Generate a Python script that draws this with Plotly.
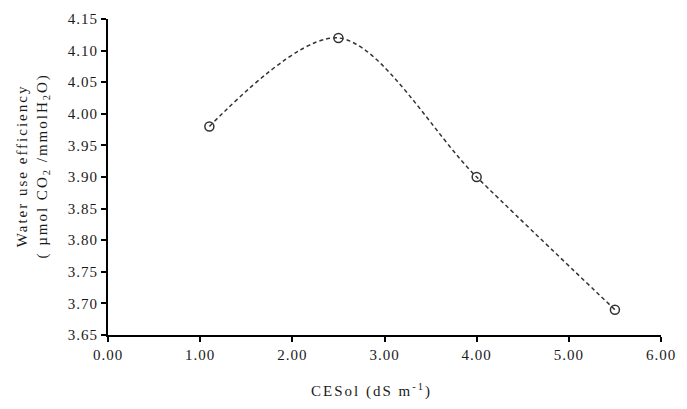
import plotly.graph_objects as go

ce_sol = [1.1, 2.5, 4.0, 5.5]
wue = [3.98, 4.12, 3.90, 3.69]
x_ticks = [0, 1, 2, 3, 4, 5, 6]
x_tick_labels = ["0.00", "1.00", "2.00", "3.00", "4.00", "5.00", "6.00"]
y_ticks = [3.65, 3.70, 3.75, 3.80, 3.85, 3.90, 3.95, 4.00, 4.05, 4.10, 4.15]
y_tick_labels = ["%.2f" % v for v in y_ticks]

font = "Liberation Serif, Times New Roman, serif"
sp = '<span style="letter-spacing:1px">%s</span>'
sp2 = '<span style="letter-spacing:2px">%s</span>'

fig = go.Figure()
fig.add_trace(go.Scatter(
    x=ce_sol, y=wue, mode="lines+markers",
    line=dict(shape="spline", smoothing=0.9, dash="4px,3px", color="#333333", width=1.5),
    marker=dict(symbol="circle-open", size=9, color="#333333", line=dict(width=1.5)),
    showlegend=False,
))

fig.update_layout(
    width=687, height=409,
    margin=dict(l=108, r=25, t=11, b=74),
    paper_bgcolor="white", plot_bgcolor="white",
    font=dict(family=font, size=15, color="#1a1a1a"),
    xaxis=dict(
        range=[0, 6], tickvals=x_ticks, ticktext=[sp % t for t in x_tick_labels],
        showline=True, linecolor="black", linewidth=2,
        ticks="outside", ticklen=5, tickwidth=2, tickcolor="black",
        showgrid=False, zeroline=False,
    ),
    yaxis=dict(
        range=[3.65, 4.15], tickvals=y_ticks, ticktext=[sp % t for t in y_tick_labels],
        showline=True, linecolor="black", linewidth=2,
        ticks="outside", ticklen=5, tickwidth=2, tickcolor="black",
        showgrid=False, zeroline=False,
    ),
    annotations=[
        dict(text=sp2 % "Water use efficiency" + "<br>" + sp2 % "( µmol CO<sub>2</sub> /mmolH<sub>2</sub>O)",
             xref="paper", yref="paper", x=-0.135, y=0.534, xanchor="center", yanchor="middle",
             textangle=-90, showarrow=False, font=dict(family=font, size=15, color="#1a1a1a")),
        dict(text=sp2 % "CESol (dS m<sup>-1</sup>)",
             xref="paper", yref="paper", x=0.477, y=-0.175, xanchor="center", yanchor="middle",
             showarrow=False, font=dict(family=font, size=15, color="#1a1a1a")),
    ],
)

fig.write_html("out.html")
